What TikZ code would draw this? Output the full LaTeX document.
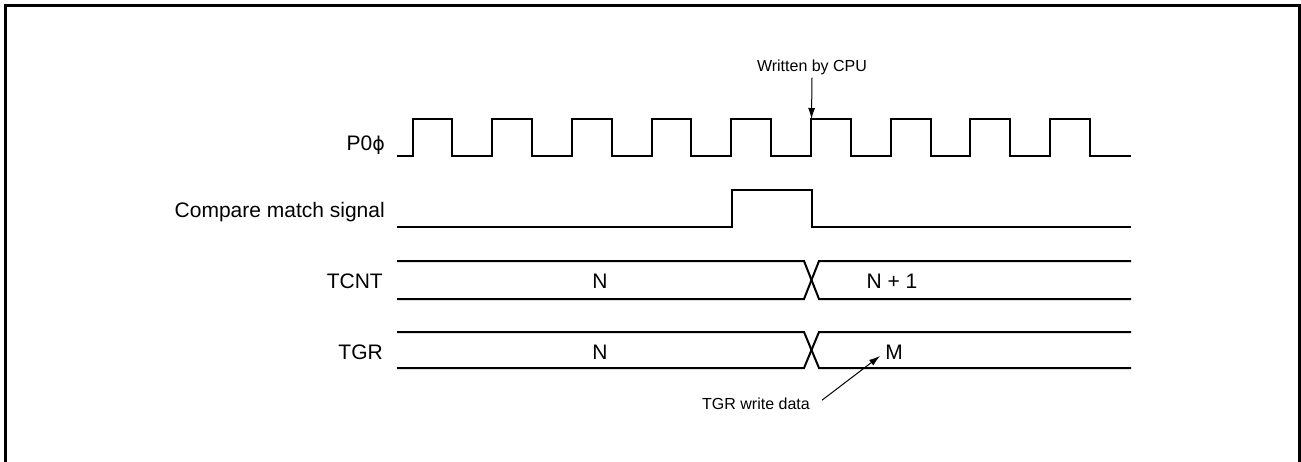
\documentclass[tikz,border=0pt]{standalone}
\usepackage{fontspec}
\setmainfont{Liberation Sans}
\newfontfamily\phifont{DejaVu Sans}
\usetikzlibrary{arrows.meta}
\begin{document}
\begin{tikzpicture}[x=1pt, y=-1pt,
    sig/.style={line width=2pt},
    lbl/.style={font=\fontsize{21}{25}\selectfont, inner sep=0pt, anchor=base east},
    val/.style={font=\fontsize{21}{25}\selectfont, inner sep=0pt, anchor=base},
    note/.style={font=\fontsize{16}{19}\selectfont, inner sep=0pt, anchor=base},
    ptr/.style={line width=1pt, -{Latex[length=11pt,width=7pt]}}]
    \useasboundingbox (0,0) rectangle (1301,461);
    \draw[line width=3pt] (5,470) -- (5,5) -- (1299,5) -- (1299,470);
    % signal names
    \node[lbl] (lclk) at (385,150) {P0{\phifont\fontsize{19}{23}\selectfont ϕ}};
    \node[lbl] (lcmp) at (385,217) {Compare match signal};
    \node[lbl] (ltcnt) at (383,288) {TCNT};
    \node[lbl] (ltgr) at (383,359) {TGR};
    % clock
    \draw[sig] (397,156) \foreach \i in {0,...,8} {
        -- ({412.5+79.7*\i},156) -- ({412.5+79.7*\i},119)
        -- ({452.3+79.7*\i},119) -- ({452.3+79.7*\i},156)} -- (1131,156);
    % compare match
    \draw[sig] (397,227) -- (731.5,227) -- (731.5,190) -- (811.5,190) -- (811.5,227) -- (1131,227);
    % TCNT and TGR buses
    \foreach \t/\b in {261/299, 332/368} {
        \draw[sig] (397,\t) -- (804,\t) -- (819,\b) -- (1131,\b);
        \draw[sig] (397,\b) -- (804,\b) -- (819,\t) -- (1131,\t);
    }
    \node[val] (tcntN) at (600,288) {N};
    \node[val] (tcntN1) at (892,288) {N + 1};
    \node[val] (tgrN) at (600,359) {N};
    \node[val] (tgrM) at (894,359) {M};
    % notes
    \node[note] (cpu) at (812,71) {Written by CPU};
    \coordinate (wr) at (811.5,119);
    \draw[ptr] ([yshift=-3pt]cpu.south) -- (wr);
    \node[note] (tgrw) at (756,409) {TGR write data};
    \coordinate (wtip) at (880,356);
    \draw[ptr] ([shift={(12,3)}]tgrw.north east) -- (wtip);
\end{tikzpicture}
\end{document}
